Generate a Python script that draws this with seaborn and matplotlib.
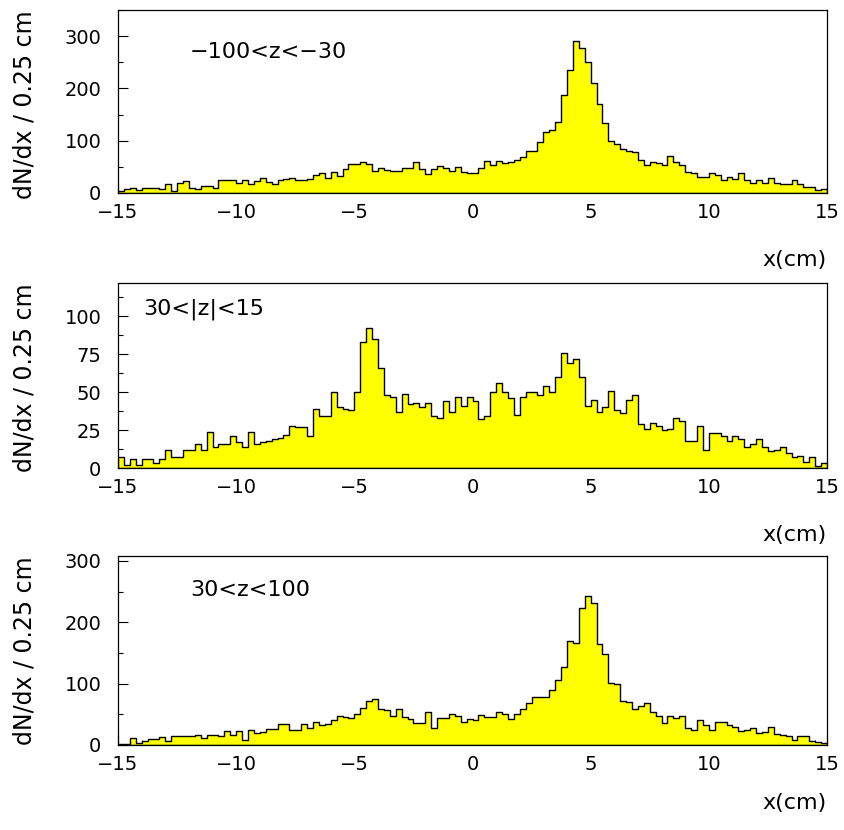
import numpy as np
import pandas as pd
import matplotlib
matplotlib.use('Agg')
import matplotlib.pyplot as plt
import seaborn as sns
from matplotlib.ticker import MultipleLocator

# 120 bins of 0.25 cm between -15 and 15
bin_edges = np.linspace(-15, 15, 121)
bin_centers = (bin_edges[:-1] + bin_edges[1:]) / 2

counts_neg = [4, 7, 9, 6, 10, 9, 9, 8, 17, 3, 19, 22, 10, 8, 13, 14, 9, 25, 24, 25,
              19, 24, 18, 22, 28, 21, 18, 25, 26, 28, 24, 25, 27, 34, 38, 28, 40, 32,
              45, 55, 55, 60, 55, 43, 48, 44, 43, 42, 48, 48, 60, 46, 37, 46, 52, 48,
              43, 50, 41, 39, 39, 47, 61, 53, 62, 58, 60, 64, 69, 81, 81, 97, 117, 120,
              135, 187, 235, 290, 278,
              250, 211, 171, 134, 100, 94, 84, 81, 79, 64, 54, 60, 57, 54, 71, 60, 54,
              41, 39, 31, 31, 39, 34, 25, 31, 27, 39, 25, 20, 25, 20, 28, 20, 18, 18,
              24, 17, 11, 11, 6, 8]

counts_mid = [7, 2, 6, 2, 6, 6, 3, 6, 12, 7, 7, 12, 12, 16, 12, 24, 14, 16, 16, 21,
              17, 14, 24, 16, 17, 18, 19, 20, 22, 28, 27, 27, 21, 39, 34, 34, 50,
              40, 39, 38, 50, 83, 92, 85, 66, 48, 47, 37, 49, 42, 43, 40, 43, 34, 33,
              44, 37, 47, 41, 47, 44, 32, 34, 50, 56, 50, 46, 35, 47, 50, 50, 48, 54,
              50, 60, 76, 69, 72, 60, 41,
              45, 37, 40, 51, 38, 36, 45, 48, 29, 26, 30, 28, 25, 26, 33, 31, 18, 18,
              28, 12, 23, 23, 21, 18, 21, 19, 14, 16, 19, 14, 11, 12, 14, 10, 7, 8, 4,
              7, 1, 3]

counts_pos = [2, 1, 11, 4, 7, 9, 10, 13, 7, 14, 14, 14, 14, 16, 11, 17, 17, 15, 22, 16,
              23, 8, 25, 19, 21, 26, 26, 34, 34, 25, 25, 34, 27, 37, 33, 34, 40,
              48, 45, 44, 50, 61, 72, 75, 58, 57, 47, 58, 45, 43, 36, 36, 54, 28, 44,
              44, 51, 48, 37, 42, 41, 49, 45, 46, 54, 51, 43, 51, 58, 69, 78, 79, 79,
              90, 106, 127, 169, 166, 223, 243,
              232, 165, 148, 101, 99, 71, 70, 58, 64, 68, 53, 48, 36, 48, 44, 48, 27,
              25, 40, 33, 25, 38, 37, 33, 29, 23, 25, 27, 19, 21, 29, 18, 16, 15, 8,
              14, 15, 7, 5, 3]

panel_counts = [counts_neg, counts_mid, counts_pos]
panel_labels = ['\u2212100<z<\u221230', '30<|z|<15', '30<z<100']
y_tops = [350, 122, 308]
y_steps = [100, 25, 100]
label_xy = [(-11.95, 270), (-13.94, 105), (-11.95, 252)]

sns.set_style('ticks')
plt.rcParams['font.family'] = ['DejaVu Sans']
plt.rcParams['text.color'] = 'black'
plt.rcParams['axes.labelcolor'] = 'black'
plt.rcParams['xtick.color'] = 'black'
plt.rcParams['ytick.color'] = 'black'

W, H = 844, 830
fig = plt.figure(figsize=(W / 100, H / 100), dpi=100)

# axes boxes in pixels: left, right, top, bottom, x-label centre
boxes = [(118, 827, 10, 193, 260),
         (118, 827, 283, 468, 535),
         (118, 827, 556, 745, 803)]

for counts, label, ytop, ystep, lxy, box in zip(panel_counts, panel_labels, y_tops,
                                                  y_steps, label_xy, boxes):
    left, right, top, bottom, xlab = box
    ax = fig.add_axes([left / W, 1 - bottom / H, (right - left) / W, (bottom - top) / H])
    df = pd.DataFrame({'x': bin_centers, 'n': counts})
    sns.histplot(data=df, x='x', weights='n', bins=list(bin_edges), element='step',
                 fill=True, color='#ffff00', edgecolor='black', linewidth=1.0,
                 alpha=1, ax=ax)
    ax.set_xlim(-15, 15)
    ax.set_ylim(0, ytop)
    ax.xaxis.set_major_locator(MultipleLocator(5))
    ax.xaxis.set_minor_locator(MultipleLocator(0.5))
    ax.yaxis.set_major_locator(MultipleLocator(ystep))
    ax.yaxis.set_minor_locator(MultipleLocator(ystep / 2))
    ax.tick_params(which='both', direction='in', top=False, right=False,
                   width=0.8, color='black', labelcolor='black')
    ax.tick_params(which='major', length=7)
    ax.tick_params(which='minor', length=3.5)
    ax.tick_params(axis='x', which='major', labelsize=14, pad=7)
    ax.tick_params(axis='y', which='major', labelsize=14, pad=12)
    for sp in ax.spines.values():
        sp.set_linewidth(0.9)
        sp.set_color('black')

    ax.set_ylabel('dN/dx / 0.25 cm', fontsize=17, loc='top')
    ax.yaxis.set_label_coords(-0.115, 1.0)
    ax.set_xlabel('x(cm)', fontsize=16, loc='right')
    ax.xaxis.set_label_coords(1.0, (bottom - xlab) / (bottom - top))
    ax.xaxis.label.set_va('center')

    ax.text(lxy[0], lxy[1], label, fontsize=16, ha='left', va='center', color='black')

fig.savefig('out.png', dpi=100)
